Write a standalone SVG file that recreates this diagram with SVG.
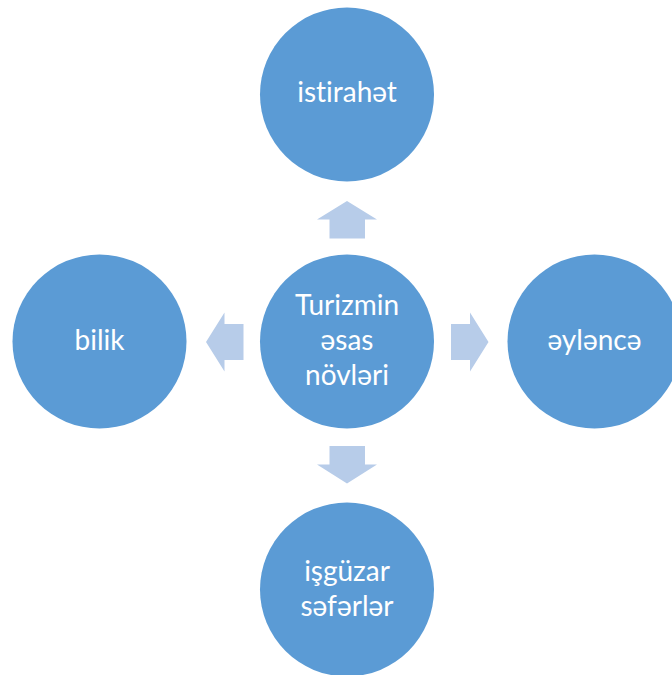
<svg xmlns="http://www.w3.org/2000/svg" width="672" height="675" viewBox="0 0 672 675">
<style>
.node{fill:#5B9BD5;}
.arrow{fill:#B7CCE9;}
.label{fill:#FFFFFF;font-family:Lato,"Open Sans","Liberation Sans",sans-serif;font-size:28px;text-anchor:middle;font-variant-ligatures:none;}
</style>
<rect width="672" height="675" fill="#FFFFFF"/>
<g id="connectors">
<polygon class="arrow" points="347,201 377,219.5 365,219.5 365,238.5 329.5,238.5 329.5,219.5 317,219.5"/>
<polygon class="arrow" points="206,342 224.5,312.5 224.5,324 243.5,324 243.5,360 224.5,360 224.5,371.5"/>
<polygon class="arrow" points="488.5,342 470,312.5 470,324 451,324 451,360 470,360 470,371.5"/>
<polygon class="arrow" points="347,483.5 377,464.5 365,464.5 365,446 329.5,446 329.5,464.5 317,464.5"/>
</g>
<g id="center">
<circle class="node" cx="347" cy="341.5" r="87"/>
<text class="label" x="347" y="315">Turizmin</text>
<text class="label" x="347" y="350">əsas</text>
<text class="label" x="347" y="385">növləri</text>
</g>
<g id="istirahet">
<circle class="node" cx="347" cy="94.5" r="87"/>
<text class="label" x="347" y="102">istirahət</text>
</g>
<g id="bilik">
<circle class="node" cx="99.5" cy="341.5" r="87"/>
<text class="label" x="99.5" y="350">bilik</text>
</g>
<g id="eylence">
<circle class="node" cx="594.5" cy="341.5" r="87"/>
<text class="label" x="594.5" y="350">əyləncə</text>
</g>
<g id="isguzar">
<circle class="node" cx="347" cy="589.5" r="87"/>
<text class="label" x="347" y="581">işgüzar</text>
<text class="label" x="347" y="616">səfərlər</text>
</g>
</svg>
